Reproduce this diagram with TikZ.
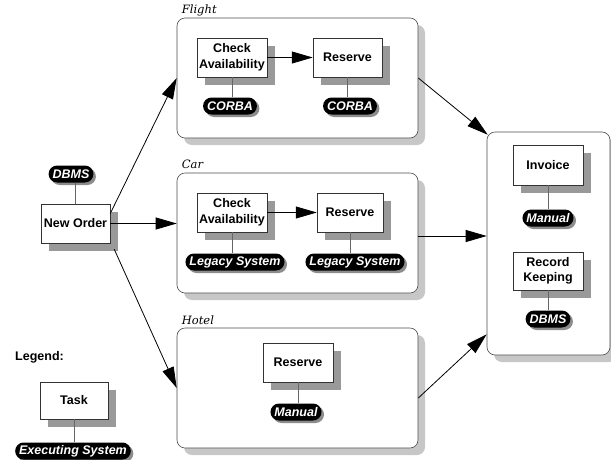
\documentclass[tikz,border=0pt]{standalone}
\usepackage{fontspec}
\setsansfont{Liberation Sans}
\newfontfamily\labelserif{DejaVu Serif}
\usetikzlibrary{arrows.meta,shadows,calc}
\tikzset{
  taskbox/.style={draw=black!80, line width=0.5pt, fill=white,
    font=\sffamily\bfseries\fontsize{12.5}{15.5}\selectfont, align=center,
    inner sep=1pt, minimum width=70pt, minimum height=39pt,
    drop shadow={shadow xshift=8pt, shadow yshift=-8pt, fill=black!40, opacity=1}},
  sysbox/.style={fill=black, text=white, rounded corners=8.5pt,
    minimum height=17pt, inner xsep=4pt, inner ysep=0pt,
    font=\sffamily\bfseries\itshape\fontsize{12.5}{14}\selectfont,
    drop shadow={shadow xshift=2.5pt, shadow yshift=-2.5pt, fill=black!45, opacity=1}},
  groupbox/.style={draw=black!70, line width=0.6pt, fill=white, rounded corners=8pt,
    drop shadow={shadow xshift=7pt, shadow yshift=-7pt, fill=black!22, opacity=1}},
  grouplabel/.style={anchor=base west, inner sep=0pt, font=\labelserif\itshape\fontsize{11.5}{14}\selectfont},
  link/.style={draw=black!60, line width=0.6pt},
  flow/.style={draw=black, line width=0.8pt, -{Triangle[length=21pt,width=12pt]}},
}
\begin{document}
\begin{tikzpicture}[x=1pt,y=-1pt]
\useasboundingbox (0,0) rectangle (611,459);

% groups
\node[groupbox, minimum width=241pt, minimum height=120pt] (flight) at (297.5,78) {};
\node[groupbox, minimum width=241pt, minimum height=120pt] (car) at (297.5,233) {};
\node[groupbox, minimum width=241pt, minimum height=120pt] (hotel) at (297.5,388) {};
\node[groupbox, minimum width=123pt, minimum height=223pt] (right) at (548.5,243.5) {};

\node[grouplabel] (flightlbl) at ([shift={(5pt,4pt)}]flight.north west) {Flight};
\node[grouplabel] (carlbl) at ([shift={(5pt,4pt)}]car.north west) {Car};
\node[grouplabel] (hotellbl) at ([shift={(5pt,3pt)}]hotel.north west) {Hotel};

% new order
\node[taskbox, minimum width=69pt] (neworder) at (75.5,223.5) {New Order};
\node[sysbox] (nodbms) at (71,174) {DBMS};
\draw[link] (neworder.north) -- (neworder.north |- nodbms.south);

% flight
\node[taskbox] (fca) at (232,57.5) {Check\\Availability};
\node[taskbox, minimum width=69pt] (fres) at (347.5,57.5) {Reserve};
\node[sysbox] (fcorba1) at (230,106) {CORBA};
\node[sysbox] (fcorba2) at (350,106) {CORBA};
\draw[link] (fca.south) -- (fca.south |- fcorba1.north);
\draw[link] (fres.south) -- (fres.south |- fcorba2.north);
\draw[flow] (fca.east) -- (fres.west);

% car
\node[taskbox] (cca) at (232,212.5) {Check\\Availability};
\node[taskbox, minimum width=66pt] (cres) at (350,212.5) {Reserve};
\node[sysbox] (cleg1) at (235,262) {Legacy System};
\node[sysbox] (cleg2) at (355,262) {Legacy System};
\draw[link] (cca.south) -- (cca.south |- cleg1.north);
\draw[link] (cres.south) -- (cres.south |- cleg2.north);
\draw[flow] (cca.east) -- (cres.west);

% hotel
\node[taskbox] (hres) at (298,362.5) {Reserve};
\node[sysbox] (hman) at (296,412) {Manual};
\draw[link] (hres.south) -- (hres.south |- hman.north);

% right group
\node[taskbox, minimum height=40pt] (inv) at (548,165) {Invoice};
\node[sysbox] (invman) at (548,218) {Manual};
\node[taskbox, minimum height=38pt] (rk) at (548,271) {Record\\Keeping};
\node[sysbox] (rkdbms) at (548,319) {DBMS};
\draw[link] (inv.south) -- (inv.south |- invman.north);
\draw[link] (rk.south) -- (rk.south |- rkdbms.north);

% legend
\node[anchor=west, inner sep=0pt, font=\sffamily\bfseries\fontsize{12.5}{14}\selectfont] (legend) at (15,357) {Legend:};
\node[taskbox, minimum width=68pt, minimum height=37pt] (task) at (74,400.5) {Task};
\node[sysbox] (exec) at (73,451) {Executing System};
\draw[link] (task.south) -- (task.south |- exec.north);

% flows
\draw[flow] (neworder.16) -- (flight.west);
\draw[flow] (neworder.east) -- (neworder.east -| car.west);
\draw[flow] ([shift={(4pt,-6pt)}]neworder.south east) -- (hotel.west);
\draw[flow] (flight.east) -- ([shift={(1pt,-3pt)}]right.north west);
\draw[flow] ([yshift=-3pt]car.east) -- ([yshift=-3pt]car.east -| right.west);
\draw[flow] ([yshift=-10pt]hotel.east) -- ([yshift=21pt]right.south west);
\end{tikzpicture}
\end{document}
